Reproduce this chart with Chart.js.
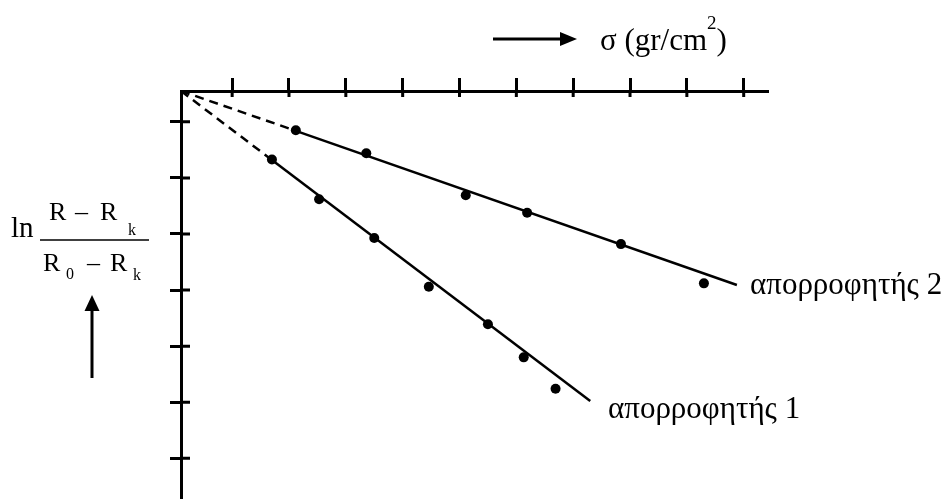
<!DOCTYPE html>
<html>
<head>
<meta charset="utf-8">
<script src="https://cdn.jsdelivr.net/npm/chart.js@4.4.0/dist/chart.umd.min.js"></script>
<style>
  html, body { margin: 0; background: #fff; }
  canvas { display: block; }
</style>
</head>
<body>
<canvas id="chart" width="950" height="502"></canvas>
<script>
// measured points: x = σ, y = ln((R-Rk)/(R0-Rk)), both in tick units
const abs1X = [1.60, 2.43, 3.40, 4.36, 5.40, 6.03, 6.59]
const abs1Y = [-1.22, -1.93, -2.62, -3.49, -4.16, -4.75, -5.31]
const abs2X = [2.02, 3.26, 5.01, 6.09, 7.74, 9.20]
const abs2Y = [-0.70, -1.11, -1.86, -2.17, -2.73, -3.43]

// fitted lines: origin -> first point (dashed) -> end (solid)
const fit1X = [0, 1.60, 7.20]
const fit1Y = [0, -1.23, -5.53]
const fit2X = [0, 2.02, 9.78]
const fit2Y = [0, -0.71, -3.46]

const xTicks = [0.9, 1.9, 2.9, 3.9, 4.9, 5.9, 6.9, 7.9, 8.9, 9.9]
const yTicks = [-0.55, -1.55, -2.55, -3.55, -4.55, -5.55, -6.55]

const label1 = 'απορροφητής 1'
const label2 = 'απορροφητής 2'
const SERIF = '"Liberation Serif", "Times New Roman", serif'

const pts = (xs, ys) => xs.map((x, i) => ({ x, y: ys[i] }))

function arrow(ctx, x1, y1, x2, y2, head, half) {
  const a = Math.atan2(y2 - y1, x2 - x1)
  const bx = x2 - head * Math.cos(a), by = y2 - head * Math.sin(a)
  ctx.beginPath()
  ctx.moveTo(x1, y1)
  ctx.lineTo(bx, by)
  ctx.lineWidth = 3
  ctx.stroke()
  ctx.beginPath()
  ctx.moveTo(x2, y2)
  ctx.lineTo(bx - half * Math.sin(a), by + half * Math.cos(a))
  ctx.lineTo(bx + half * Math.sin(a), by - half * Math.cos(a))
  ctx.closePath()
  ctx.fill()
}

function text(ctx, s, size, x, y) {
  ctx.font = `${size}px ${SERIF}`
  ctx.fillText(s, x, y)
  return x + ctx.measureText(s).width
}

const annotations = {
  id: 'annotations',
  beforeDatasetsDraw(chart) {
    // short stubs of the tick marks on the inner side of the axes
    const { ctx, chartArea: a, scales: { x, y } } = chart
    ctx.save()
    ctx.strokeStyle = '#000'
    ctx.lineWidth = 3
    ctx.beginPath()
    x.ticks.forEach(t => {
      const px = x.getPixelForValue(t.value)
      ctx.moveTo(px, a.top); ctx.lineTo(px, a.top + 6)
    })
    y.ticks.forEach(t => {
      const py = y.getPixelForValue(t.value)
      ctx.moveTo(a.left, py); ctx.lineTo(a.left + 9, py)
    })
    ctx.stroke()
    ctx.restore()
  },
  afterDraw(chart) {
    const { ctx } = chart
    ctx.save()
    ctx.fillStyle = '#000'
    ctx.strokeStyle = '#000'
    ctx.textBaseline = 'alphabetic'

    // series labels next to the line ends
    text(ctx, label1, 31, 608, 418)
    text(ctx, label2, 31, 750, 294)

    // x axis title with arrow
    arrow(ctx, 493, 39, 577, 39, 17, 7)
    let tx = text(ctx, 'σ (gr/cm', 31, 600, 50)
    tx = text(ctx, '2', 19, tx, 29)
    text(ctx, ')', 31, tx, 50)

    // y axis title: ln (R - Rk)/(R0 - Rk)
    text(ctx, 'ln', 29, 11, 237)
    text(ctx, 'R', 26, 49, 220)
    text(ctx, '–', 26, 75, 220)
    text(ctx, 'R', 26, 100, 220)
    text(ctx, 'k', 16, 128, 235)
    text(ctx, 'R', 26, 43, 271)
    text(ctx, '0', 16, 66, 279)
    text(ctx, '–', 26, 87, 271)
    text(ctx, 'R', 26, 110, 271)
    text(ctx, 'k', 16, 133, 280)
    ctx.lineWidth = 1.5
    ctx.beginPath()
    ctx.moveTo(40, 240); ctx.lineTo(149, 240)
    ctx.stroke()
    arrow(ctx, 92, 378, 92, 295, 16, 7.5)
    ctx.restore()
  }
}

new Chart(document.getElementById('chart'), {
  type: 'scatter',
  data: {
    datasets: [
      {
        data: pts(fit1X, fit1Y), showLine: true, borderColor: '#000', borderWidth: 2.5,
        pointRadius: 0, segment: { borderDash: c => c.p0DataIndex === 0 ? [9, 6] : undefined }
      },
      {
        data: pts(fit2X, fit2Y), showLine: true, borderColor: '#000', borderWidth: 2.5,
        pointRadius: 0, segment: { borderDash: c => c.p0DataIndex === 0 ? [9, 6] : undefined }
      },
      { data: pts(abs1X, abs1Y), pointRadius: 5, backgroundColor: '#000', borderWidth: 0 },
      { data: pts(abs2X, abs2Y), pointRadius: 5, backgroundColor: '#000', borderWidth: 0 }
    ]
  },
  options: {
    responsive: false,
    animation: false,
    layout: { padding: { left: 170, top: 78, right: 183, bottom: 0 } },
    plugins: { legend: { display: false }, tooltip: { enabled: false } },
    scales: {
      x: {
        type: 'linear', position: 'top', min: 0, max: 10.31,
        afterBuildTicks: s => { s.ticks = xTicks.map(v => ({ value: v })) },
        ticks: { display: false },
        grid: { drawOnChartArea: false, drawTicks: true, tickLength: 13, color: '#000', lineWidth: 3 },
        border: { display: true, color: '#000', width: 3 }
      },
      y: {
        type: 'linear', position: 'left', min: -7.24, max: 0,
        afterBuildTicks: s => { s.ticks = yTicks.map(v => ({ value: v })) },
        ticks: { display: false },
        grid: { drawOnChartArea: false, drawTicks: true, tickLength: 11, color: '#000', lineWidth: 3 },
        border: { display: true, color: '#000', width: 3 }
      }
    }
  },
  plugins: [annotations]
})
</script>
</body>
</html>
